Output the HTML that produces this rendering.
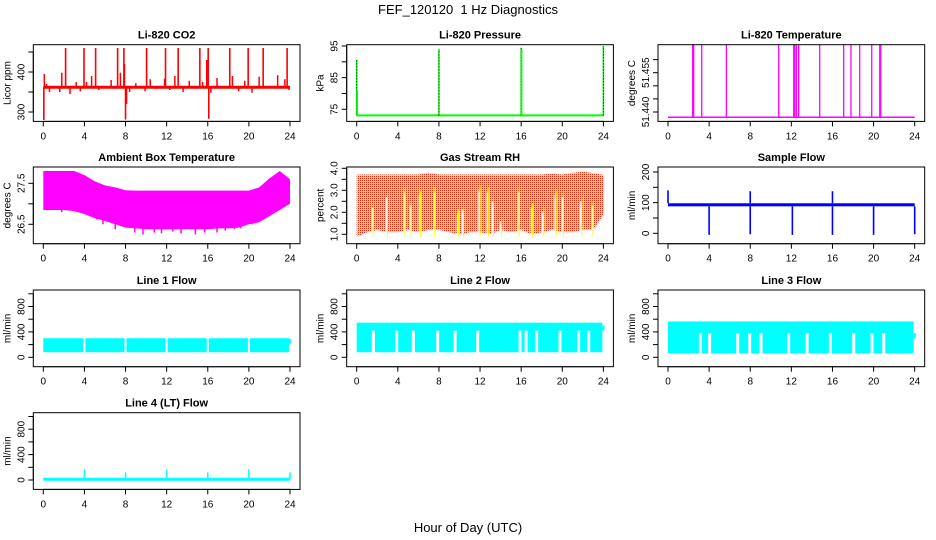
<!DOCTYPE html>
<html><head><meta charset="utf-8"><style>
html,body{margin:0;padding:0;background:#fff;}
svg{display:block;font-family:"Liberation Sans",Arial,sans-serif;}
</style></head><body>
<svg id="fig" width="936" height="540" viewBox="0 0 936 540" xmlns="http://www.w3.org/2000/svg">
<defs>
<pattern id="rhpat" width="2" height="2" patternUnits="userSpaceOnUse">
<rect width="2" height="2" fill="#ffff00"/><rect width="1" height="1" fill="#ff2000"/>
</pattern>
</defs>
<text x="468" y="14" text-anchor="middle" font-size="13">FEF_120120&#160; 1 Hz Diagnostics</text>
<text x="468" y="532" text-anchor="middle" font-size="13">Hour of Day (UTC)</text>
</svg>
<script>
// ---- data ----
const xTicks = [0,4,8,12,16,20,24];
const co2Base = 362;
const co2SpikeHours = [2.17,3.96,5.09,7.23,7.84,10.05,11.89,13.12,15.23,16.04,18.14,19.93,21.39,23.72];
const co2SpikeVals = [460,460,460,460,460,460,460,460,460,460,460,460,460,460];
const co2DownHours = [0.05,8.0,16.1];
const co2DownVals = [280,281,283];
const co2SmallHours = [0.1,0.3,0.6,1.3,1.6,1.8,2.6,3.2,3.6,4.2,4.7,5.4,6.6,7.5,7.9,8.1,8.4,9.0,9.9,10.4,11.0,11.8,12.3,12.8,13.6,14.2,15.5,15.9,16.3,16.9,17.6,18.4,19.0,19.6,20.3,21.0,22.1,22.8,23.5,23.9];
const co2SmallVals = [395,370,350,360,350,398,345,375,352,375,390,355,380,398,420,320,350,372,352,382,358,383,355,390,350,378,375,430,348,385,362,390,352,378,348,388,360,392,382,355];
const presBase = 73.1;
const presSpikeHours = [0,8,16,24];
const presSpikeVals = [90.6,94.0,94.5,95.0];
const tempBase = 51.438;
const tempSpikeHours = [2.40,2.50,3.28,5.68,10.77,12.23,12.33,12.49,12.71,14.76,17.09,17.80,18.65,19.82,20.60,20.70];
const tempSpikeVals = [51.466,51.466,51.466,51.466,51.466,51.466,51.466,51.466,51.466,51.466,51.466,51.466,51.466,51.466,51.466,51.466];
const hours = [0,1,2,3,4,5,6,7,8,9,10,11,12,13,14,15,16,17,18,19,20,21,22,23,24];
const ambHi = [27.8,27.8,27.8,27.8,27.7,27.55,27.45,27.4,27.33,27.32,27.32,27.32,27.32,27.32,27.32,27.32,27.32,27.32,27.32,27.32,27.32,27.4,27.62,27.8,27.6];
const ambLo = [26.85,26.85,26.85,26.82,26.75,26.65,26.58,26.5,26.42,26.4,26.38,26.38,26.38,26.38,26.38,26.38,26.38,26.4,26.4,26.42,26.5,26.55,26.7,26.85,27.0];
const ambDipHours = [1.8,3.0,5.2,5.8,7.0,8.9,9.7,10.8,11.5,12.6,13.4,14.8,15.7,16.9,17.7,18.6,19.2,20.3];
const ambDipVals = [26.8,26.82,26.62,26.5,26.38,26.3,26.25,26.3,26.28,26.32,26.28,26.25,26.3,26.3,26.35,26.38,26.4,26.5];
const rhHi = [3.72,3.72,3.72,3.72,3.72,3.72,3.72,3.8,3.72,3.72,3.72,3.72,3.72,3.72,3.72,3.72,3.72,3.72,3.72,3.75,3.72,3.8,3.85,3.78,3.7];
const rhLo = [0.9,1.1,1.2,1.1,1.1,1.2,1.1,1.2,1.2,1.1,1.0,1.1,1.1,1.0,1.2,1.1,1.2,1.0,1.1,1.2,1.1,1.1,1.2,1.2,1.9];
const rhGapHours = [1.5,2.9,4.6,5.2,6.1,7.5,9.8,10.3,11.9,12.7,13.2,14.0,15.7,17.0,18.1,19.3,20.0,21.8,22.9];
const rhGapTops = [2.2,2.7,2.9,2.3,2.8,2.9,1.9,2.1,3.0,2.9,2.5,1.6,2.9,2.2,2.0,2.8,2.7,2.5,2.3];
const sfBase = [88,98];
const sfDipHours = [4.0,8.0,12.1,16.0,20.0,24.0];
const sfDipVals = [-5,-3,-5,-5,-5,-3];
const sfSpikeHours = [0,8,16];
const sfSpikeVals = [140,137,137];
const l1Hi = 300, l1Lo = 80;
const l1GapHours = [4,8,12,16,20];
const l2Hi = 545, l2Mid = 420, l2Lo = 80;
const l2GapHours = [1.62,3.89,5.51,7.88,9.57,11.77,15.89,16.48,17.51,19.78,21.59,22.57];
const l3Hi = 565, l3Mid = 380, l3Lo = 60;
const l3GapHours = [3.15,4.05,6.78,7.95,9.05,11.74,13.53,15.80,18.07,19.85,20.99];
const l4Base = 12;
const l4SpikeHours = [4,8,12,16,20,24];
const l4SpikeVals = [170,120,170,120,170,120];

// ---- layout ----
const NS = 'http://www.w3.org/2000/svg';
const svg = document.getElementById('fig');
const colL = [33.3,346.7,658];
const rowT = [44.7,167,290,412.7];
const BW = 266.7, BH = 76.7;
function mk(tag, attrs, parent){const e=document.createElementNS(NS,tag);for(const k in attrs)e.setAttribute(k,attrs[k]);(parent||svg).appendChild(e);return e;}

function panel(name, col, row, title, ylab, refA, refB, yTicks, yLabels, fmt){
  const L = colL[col], T = rowT[row];
  const g = mk('g', {});
  
  
  const x = h => L + 10 + h * (246.7/24);
  const y = v => T + refA[1] + (v - refA[0]) * (refB[1]-refA[1])/(refB[0]-refA[0]);
  const cid = 'clip-' + name;
  const cp = mk('clipPath', {id: cid}, g);
  mk('rect', {x:L, y:T, width:BW, height:BH}, cp);
  const plot = mk('g', {'clip-path':'url(#'+cid+')'}, g);
  
  
  const t = mk('text', {x:L+BW/2, y:T-6, 'text-anchor':'middle', 'font-size':'11', 'font-weight':'bold'}, g);
  t.textContent = title;
  
  
  const box = mk('rect', {x:L, y:T, width:BW, height:BH, fill:'none', stroke:'#000', 'stroke-width':'1'}, g);
  
  
  const xa = mk('g', {}, g);
  
  
  mk('line', {x1:x(0), x2:x(24), y1:T+BH, y2:T+BH, stroke:'#000'}, xa);
  xTicks.forEach(v => {
    mk('line', {x1:x(v), x2:x(v), y1:T+BH, y2:T+BH+5, stroke:'#000'}, xa);
    const tl = mk('text', {x:x(v), y:T+BH+18, 'text-anchor':'middle', 'font-size':'10'}, xa);
    tl.textContent = v;
  });
  const ya = mk('g', {}, g);
  
  
  mk('line', {x1:L, x2:L, y1:y(yTicks[0]), y2:y(yTicks[yTicks.length-1]), stroke:'#000'}, ya);
  yTicks.forEach(v => { mk('line', {x1:L-5, x2:L, y1:y(v), y2:y(v), stroke:'#000'}, ya); });
  yLabels.forEach(v => {
    const yy = y(v);
    const tl = mk('text', {x:L-9, y:yy, 'text-anchor':'middle', 'font-size':'10', transform:'rotate(-90 '+(L-9)+' '+yy+')'}, ya);
    tl.textContent = (fmt !== undefined) ? v.toFixed(fmt) : v;
  });
  const yl = mk('text', {x:L-23, y:T+BH/2, 'text-anchor':'middle', 'font-size':'10', transform:'rotate(-90 '+(L-23)+' '+(T+BH/2)+')'}, g);
  yl.textContent = ylab;
  
  
  return {x, y, plot, T, L};
}
function vline(p, h, v1, v2, color, w, name){
  const e = mk('line', {x1:p.x(h), x2:p.x(h), y1:p.y(v1), y2:p.y(v2), stroke:color, 'stroke-width':w||1}, p.plot);
  
  
  return e;
}
function band(p, hi, lo, color, name){
  let pts = hours.map((h,i)=>p.x(h)+','+p.y(hi[i]));
  for(let i=hours.length-1;i>=0;i--) pts.push(p.x(hours[i])+','+p.y(lo[i]));
  const e = mk('polygon', {points:pts.join(' '), fill:color}, p.plot);
  
  
}

// CO2
{
  const p = panel('co2', 0, 0, 'Li-820 CO2', 'Licor ppm', [300,67.3], [400,27.3], [300,350,400,450], [300,400]);
  const b = mk('line', {x1:p.x(0), x2:p.x(24), y1:p.y(co2Base), y2:p.y(co2Base), stroke:'#ff0000', 'stroke-width':3}, p.plot);
  
  
  co2SmallHours.forEach((h,i)=>vline(p,h,co2Base,co2SmallVals[i],'#ff0000',1.5,'co2-small-spike'));
  co2SpikeHours.forEach((h,i)=>vline(p,h,co2Base,co2SpikeVals[i],'#ff0000',1.6,'co2-spike'));
  co2DownHours.forEach((h,i)=>vline(p,h,co2Base,co2DownVals[i],'#ff0000',1.6,'co2-dip'));
}
// Pressure
{
  const p = panel('pressure', 1, 0, 'Li-820 Pressure', 'kPa', [75,64.6], [95,1.3], [75,80,85,90,95], [75,85,95]);
  const b = mk('line', {x1:p.x(0), x2:p.x(24), y1:p.y(presBase), y2:p.y(presBase), stroke:'#00ff00', 'stroke-width':2}, p.plot);
  
  
  presSpikeHours.forEach((h,i)=>{
    vline(p,h,presBase,presSpikeVals[i],'#00ff00',1.5,'pressure-spike');
    const d = vline(p,h,presBase,presSpikeVals[i],'#000',1,'pressure-spike-dots');
    d.setAttribute('stroke-dasharray','1 2');
  });
  vline(p,0.05,presBase,81,'#00ff00',1.5,'pressure-spike-start');
  vline(p,16.05,presBase,94,'#00ff00',1.5,'pressure-spike-16');
}
// Temperature
{
  const p = panel('li820-temp', 2, 0, 'Li-820 Temperature', 'degrees C', [51.440,67.3], [51.455,28], [51.440,51.445,51.450,51.455,51.460], [51.440,51.455], 3);
  const b = mk('line', {x1:p.x(0), x2:p.x(24), y1:p.y(tempBase), y2:p.y(tempBase), stroke:'#ff00ff', 'stroke-width':1.5}, p.plot);
  
  
  tempSpikeHours.forEach((h,i)=>vline(p,h,tempBase,tempSpikeVals[i],'#ff00ff',1.3,'temp-spike'));
}
// Ambient
{
  const p = panel('ambient', 0, 1, 'Ambient Box Temperature', 'degrees C', [27.5,16.3], [26.5,57.3], [26.5,27.0,27.5], [26.5,27.5], 1);
  band(p, ambHi, ambLo, '#ff00ff', 'ambient-band');
  ambDipHours.forEach((h,i)=>vline(p,h,27.0,ambDipVals[i],'#ff00ff',1.5,'ambient-dip'));
}
// RH
{
  const p = panel('rh', 1, 1, 'Gas Stream RH', 'percent', [4.0,1.3], [1.0,67.3], [1.0,1.5,2.0,2.5,3.0,3.5,4.0], [1,2,3,4], 1);
  band(p, rhHi, rhLo, 'url(#rhpat)', 'rh-band');
  rhGapHours.forEach((h,i)=>{ vline(p,h,0.8,rhGapTops[i],'#ffffff',1.5,'rh-gap'); vline(p,h+0.1,0.9,rhGapTops[i]+0.2,'#ffff00',1,'rh-yellow-trace'); });
}
// Sample flow
{
  const p = panel('sample-flow', 2, 1, 'Sample Flow', 'ml/min', [0,66.3], [200,5], [0,50,100,150,200], [0,100,200]);
  const r = mk('rect', {x:p.x(0), y:p.y(sfBase[1]), width:p.x(24)-p.x(0), height:p.y(sfBase[0])-p.y(sfBase[1]), fill:'#0000ff'}, p.plot);
  
  
  sfDipHours.forEach((h,i)=>vline(p,h,sfBase[0],sfDipVals[i],'#0000ff',1.6,'sample-flow-dip'));
  sfSpikeHours.forEach((h,i)=>vline(p,h,sfBase[1],sfSpikeVals[i],'#0000ff',1.6,'sample-flow-spike'));
}
// Line flows
function flowPanel(name, col, row, title, hi, mid, lo, gaps, tailLo, tailHi, gw){
  const p = panel(name, col, row, title, 'ml/min', [0,67.3], [800,16.5], [0,200,400,600,800,1000], [0,400,800]);
  const r = mk('rect', {x:p.x(0), y:p.y(hi), width:p.x(23.9)-p.x(0), height:p.y(lo)-p.y(hi), fill:'#00ffff'}, p.plot);
  
  
  gaps.forEach(h=>vline(p,h,lo-30,mid,'#ffffff',gw,name+'-gap'));
  vline(p,24,tailLo,tailHi,'#00ffff',2,name+'-tail');
  return p;
}
flowPanel('line1-flow', 0, 2, 'Line 1 Flow', l1Hi, l1Hi+20, l1Lo, l1GapHours, 220, 290, 2);
flowPanel('line2-flow', 1, 2, 'Line 2 Flow', l2Hi, l2Mid, l2Lo, l2GapHours, 420, 500, 3);
flowPanel('line3-flow', 2, 2, 'Line 3 Flow', l3Hi, l3Mid, l3Lo, l3GapHours, 300, 380, 3);
// Line 4
{
  const p = panel('line4-flow', 0, 3, 'Line 4 (LT) Flow', 'ml/min', [0,67.3], [800,16.5], [0,200,400,600,800,1000], [0,400,800]);
  const b = mk('line', {x1:p.x(0), x2:p.x(24), y1:p.y(l4Base), y2:p.y(l4Base), stroke:'#00ffff', 'stroke-width':3}, p.plot);
  
  
  l4SpikeHours.forEach((h,i)=>vline(p,h,l4Base,l4SpikeVals[i],'#00ffff',1.5,'line4-spike'));
}
</script>
</body></html>
